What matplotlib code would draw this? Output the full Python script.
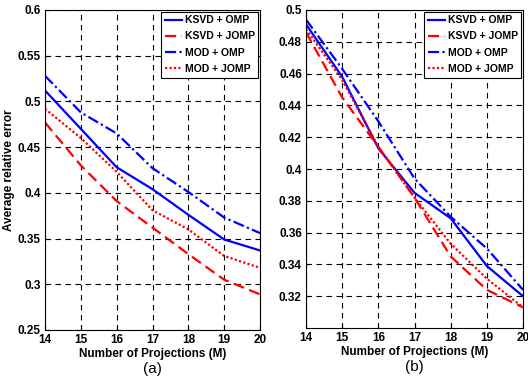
import matplotlib
matplotlib.use("Agg")
import matplotlib.pyplot as plt

plt.rcParams['font.family'] = ['Liberation Sans', 'DejaVu Sans']

M = [14, 15, 16, 17, 18, 19, 20]
labels = ["KSVD + OMP", "KSVD + JOMP", "MOD + OMP", "MOD + JOMP"]

a_ksvd_omp = [0.512, 0.470, 0.428, 0.404, 0.376, 0.349, 0.337]
a_ksvd_jomp = [0.477, 0.430, 0.391, 0.362, 0.333, 0.305, 0.289]
a_mod_omp = [0.528, 0.488, 0.465, 0.427, 0.401, 0.373, 0.356]
a_mod_jomp = [0.492, 0.460, 0.423, 0.381, 0.360, 0.331, 0.318]

b_ksvd_omp = [0.491, 0.458, 0.413, 0.385, 0.369, 0.339, 0.320]
b_ksvd_jomp = [0.486, 0.445, 0.414, 0.382, 0.345, 0.324, 0.313]
b_mod_omp = [0.494, 0.463, 0.430, 0.394, 0.370, 0.350, 0.324]
b_mod_jomp = [0.488, 0.456, 0.414, 0.382, 0.353, 0.331, 0.313]

a_yticks = [0.25, 0.3, 0.35, 0.4, 0.45, 0.5, 0.55, 0.6]
a_yticklabels = ["0.25", "0.3", "0.35", "0.4", "0.45", "0.5", "0.55", "0.6"]
b_yticks = [0.32, 0.34, 0.36, 0.38, 0.4, 0.42, 0.44, 0.46, 0.48, 0.5]
b_yticklabels = ["0.32", "0.34", "0.36", "0.38", "0.4", "0.42", "0.44", "0.46", "0.48", "0.5"]

styles = [dict(color='#0000ff', ls='-'),
          dict(color='#ff0000', ls=(0, (5, 2.5))),
          dict(color='#0000ff', ls=(0, (5, 1.5, 1, 1.5))),
          dict(color='#ff0000', ls=(0, (1, 1)))]

fig = plt.figure(figsize=(5.28, 3.84), dpi=100)
ax1 = fig.add_axes([45/528, 1 - 330/384, 215/528, 320/384])
ax2 = fig.add_axes([306/528, 1 - 328/384, 217/528, 318/384])

def draw(ax, series, ylim, yt, ytl, tag):
    for s, lab, st in zip(series, labels, styles):
        ax.plot(M, s, lw=1.6, label=lab, **st)
    ax.set_xlim(14, 20)
    ax.set_ylim(*ylim)
    ax.set_xticks(M)
    ax.set_xticklabels([str(m) for m in M])
    ax.set_yticks(yt)
    ax.set_yticklabels(ytl)
    ax.grid(True, color='black', ls=(0, (5, 4)), lw=0.8)
    ax.tick_params(direction='in', length=3, labelsize=8.5, width=0.8, pad=3)
    for t in ax.get_xticklabels() + ax.get_yticklabels():
        t.set_fontweight('bold')
    for sp in ax.spines.values():
        sp.set_linewidth(0.8)
    ax.set_xlabel("Number of Projections (M)", fontsize=8.5, fontweight='bold', labelpad=1)
    leg = ax.legend(loc='upper right', handlelength=1.6, handletextpad=0.3,
                    borderpad=0.35, labelspacing=0.6, fancybox=False, framealpha=1,
                    borderaxespad=0.15, prop={'weight': 'bold', 'size': 7.5})
    leg.get_frame().set_edgecolor('black')
    leg.get_frame().set_linewidth(0.8)
    ax.text(0.5, -0.1, tag, transform=ax.transAxes, ha='center', va='top', fontsize=11)

draw(ax1, [a_ksvd_omp, a_ksvd_jomp, a_mod_omp, a_mod_jomp], (0.25, 0.6),
     a_yticks, a_yticklabels, "(a)")
ax1.set_ylabel("Average relative error", fontsize=8.5, fontweight='bold', labelpad=2)
draw(ax2, [b_ksvd_omp, b_ksvd_jomp, b_mod_omp, b_mod_jomp], (0.30, 0.50),
     b_yticks, b_yticklabels, "(b)")

fig.savefig("out.png", dpi=100)
